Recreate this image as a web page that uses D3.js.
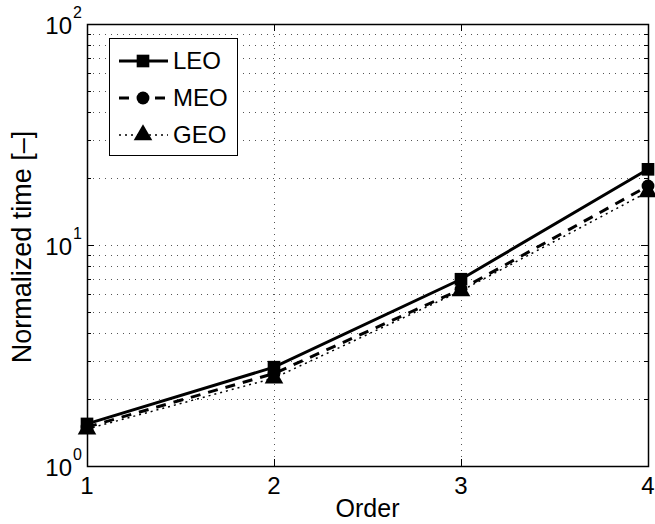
<html>
<head>
<script src="https://d3js.org/d3.v7.min.js"></script>
<style>
  body { margin: 0; background: #fff; }
  text { font-family: "Liberation Sans", Arial, sans-serif; fill: #000; }
</style>
</head>
<body>
<svg id="chart" width="655" height="524"></svg>
<script>
const orders = [1, 2, 3, 4];
const leo = [1.55, 2.8, 7.0, 22.0];
const meo = [1.5, 2.62, 6.3, 18.5];
const geo = [1.47, 2.5, 6.2, 17.4];
const yDecades = [1, 10, 100];
const seriesNames = ["LEO", "MEO", "GEO"];

const svg = d3.select("svg#chart");
const margin = { top: 24, right: 7, bottom: 58, left: 87 };
const width = 655 - margin.left - margin.right;
const height = 524 - margin.top - margin.bottom;

const x = d3.scaleLinear().domain([1, 4]).range([margin.left, margin.left + width]);
const y = d3.scaleLog().domain([1, 100]).range([margin.top + height, margin.top]);

// minor values 2..9 for each decade
let minors = [];
for (let d = 1; d < 100; d *= 10) {
  for (let k = 2; k <= 9; k++) minors.push(k * d);
}

// gridlines
const grid = svg.append("g").attr("stroke", "#555").attr("stroke-width", 1)
  .attr("stroke-dasharray", "1,5");
grid.selectAll(".hg").data(minors.concat([10])).join("line")
  .attr("x1", margin.left).attr("x2", margin.left + width)
  .attr("y1", d => Math.round(y(d)) + 0.5).attr("y2", d => Math.round(y(d)) + 0.5);
grid.selectAll(".vg").data([2, 3]).join("line")
  .attr("x1", d => Math.round(x(d)) + 0.5).attr("x2", d => Math.round(x(d)) + 0.5)
  .attr("y1", margin.top).attr("y2", margin.top + height);

// ticks (inside, all four sides)
const ticks = svg.append("g").attr("stroke", "#000").attr("stroke-width", 1);
const L = margin.left, R = margin.left + width, T = margin.top, B = margin.top + height;
yDecades.forEach(d => {
  const yy = Math.round(y(d)) + 0.5;
  ticks.append("line").attr("x1", L).attr("x2", L + 7).attr("y1", yy).attr("y2", yy);
  ticks.append("line").attr("x1", R).attr("x2", R - 7).attr("y1", yy).attr("y2", yy);
});
minors.forEach(d => {
  const yy = Math.round(y(d)) + 0.5;
  ticks.append("line").attr("x1", L).attr("x2", L + 4).attr("y1", yy).attr("y2", yy);
  ticks.append("line").attr("x1", R).attr("x2", R - 4).attr("y1", yy).attr("y2", yy);
});
orders.forEach(d => {
  const xx = Math.round(x(d)) + 0.5;
  ticks.append("line").attr("x1", xx).attr("x2", xx).attr("y1", B).attr("y2", B - 7);
  ticks.append("line").attr("x1", xx).attr("x2", xx).attr("y1", T).attr("y2", T + 7);
});

// box
svg.append("rect").attr("x", L + 0.5).attr("y", T + 0.5).attr("width", width).attr("height", height)
  .attr("fill", "none").attr("stroke", "#000").attr("stroke-width", 1.5);

// tick labels
orders.forEach(d => {
  svg.append("text").attr("x", x(d)).attr("y", B + 28).attr("text-anchor", "middle")
    .attr("font-size", 24).text(d);
});
yDecades.forEach(d => {
  const p = Math.round(Math.log10(d));
  svg.append("text").attr("x", L - 15).attr("y", y(d) + 10).attr("text-anchor", "end")
    .attr("font-size", 24).text("10");
  svg.append("text").attr("x", L - 14).attr("y", y(d) - 6).attr("font-size", 16).text(p);
});

// axis labels
svg.append("text").attr("x", x(2.5)).attr("y", 517).attr("text-anchor", "middle")
  .attr("font-size", 25).text("Order");
svg.append("text").attr("transform", `translate(31,${(T + B) / 2 + 2}) rotate(-90)`)
  .attr("text-anchor", "middle").attr("font-size", 27).text("Normalized time [–]");

// series
const styles = [
  { data: leo, dash: null, w: 3, marker: d3.symbolSquare, size: 160 },
  { data: meo, dash: "10,8", w: 3, marker: d3.symbolCircle, size: 130 },
  { data: geo, dash: "2,4", w: 1.5, marker: d3.symbolTriangle, size: 150 }
];
const line = d3.line().x((d, i) => x(orders[i])).y(d => y(d));
const plot = svg.append("g");
styles.slice().reverse().forEach(s => {
  plot.append("path").datum(s.data).attr("d", line).attr("fill", "none")
    .attr("stroke", "#000").attr("stroke-width", s.w)
    .attr("stroke-dasharray", s.dash);
});
styles.forEach(s => {
  plot.selectAll(null).data(s.data).join("path")
    .attr("transform", (d, i) => `translate(${x(orders[i])},${y(d)})`)
    .attr("d", d3.symbol().type(s.marker).size(s.size)).attr("fill", "#000");
});

// legend
const lg = svg.append("g");
lg.append("rect").attr("x", 109.5).attr("y", 38.5).attr("width", 128).attr("height", 117)
  .attr("fill", "#fff").attr("stroke", "#000").attr("stroke-width", 1);
styles.forEach((s, i) => {
  const ly = 61 + i * 37;
  lg.append("line").attr("x1", 119).attr("x2", 168).attr("y1", ly).attr("y2", ly)
    .attr("stroke", "#000").attr("stroke-width", s.w).attr("stroke-dasharray", s.dash);
  lg.append("path").attr("transform", `translate(143,${ly})`)
    .attr("d", d3.symbol().type(s.marker).size(s.size)).attr("fill", "#000");
  lg.append("text").attr("x", 173).attr("y", ly + 8).attr("font-size", 24).text(seriesNames[i]);
});
</script>
</body>
</html>
